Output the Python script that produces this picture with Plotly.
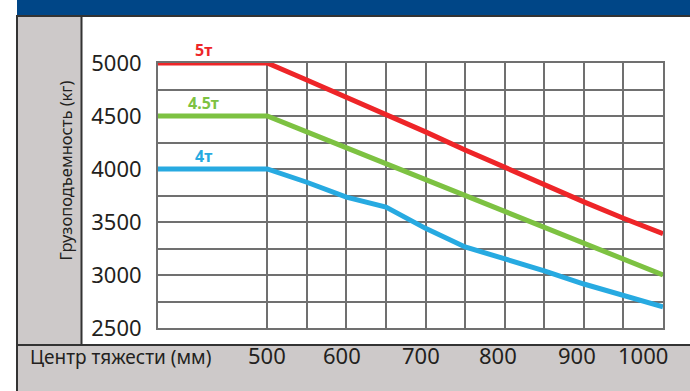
import plotly.graph_objects as go

# ---- data ----
X_START = 362
x_vals = [X_START, 500, 550, 600, 650, 700, 750, 800, 850, 900, 950, 1000]
series_names = ["5т", "4.5т", "4т"]
y_5t = [5000, 5000, 4840, 4680, 4515, 4350, 4180, 4015, 3860, 3690, 3535, 3390]
y_45t = [4500, 4500, 4350, 4200, 4050, 3900, 3750, 3600, 3450, 3300, 3150, 3000]
y_4t = [4000, 4000, 3875, 3735, 3640, 3440, 3265, 3155, 3040, 2915, 2810, 2700]
x_tick_labels = ["500", "600", "700", "800", "900", "1000"]
x_tick_vals = [500, 600, 700, 800, 900, 1000]
y_title = "Грузоподъемность (кг)"
x_title = "Центр тяжести (мм)"

colors = ["#ee2528", "#7dc242", "#27aae1"]
FONT = "Noto Sans"

W, H = 690, 391
L, R, T, B = 158, 663, 63, 328


def px(x):
    return (x - L) / (R - L)


def py(y):
    return (B - y) / (B - T)


fig = go.Figure()
for name, ys, c in zip(series_names, [y_5t, y_45t, y_4t], colors):
    fig.add_trace(go.Scatter(x=x_vals, y=ys, mode="lines", name=name,
                             line=dict(color=c, width=5), cliponaxis=False,
                             hoverinfo="skip"))
    fig.add_annotation(x=420, y=ys[0], xref="x", yref="y", text="<b>%s</b>" % name,
                       showarrow=False, yshift=13,
                       font=dict(family=FONT, size=16, color=c))

grid_c = "#707070"
fig.update_xaxes(range=[X_START, 1000], tickvals=list(range(500, 1001, 50)),
                 showticklabels=False, showgrid=True, gridcolor=grid_c, gridwidth=2,
                 showline=True, linecolor=grid_c, linewidth=2, mirror=True,
                 zeroline=False, fixedrange=True)
fig.update_yaxes(range=[2500, 5000], dtick=500, tick0=2500,
                 showgrid=True, gridcolor=grid_c, gridwidth=2,
                 minor=dict(dtick=250, showgrid=True, gridcolor=grid_c, gridwidth=2),
                 showline=True, linecolor=grid_c, linewidth=2, mirror=True,
                 zeroline=False, ticklabelstandoff=10,
                 tickfont=dict(family=FONT, size=22, color="#231f20"), fixedrange=True)

# x labels in bottom row
shifts = [0, -4, -5, -7, -7, -20]
for v, t, s in zip(x_tick_vals, x_tick_labels, shifts):
    fig.add_annotation(x=v, y=py(372), xref="x", yref="paper", text=t, showarrow=False,
                       xshift=s, font=dict(family=FONT, size=22, color="#231f20"))

fig.add_annotation(x=px(28), y=py(372), xref="paper", yref="paper", text=x_title,
                   xanchor="left", showarrow=False,
                   font=dict(family=FONT, size=19, color="#231f20"))
fig.add_annotation(x=px(51), y=py(171), xref="paper", yref="paper", text=y_title,
                   textangle=-90, showarrow=False,
                   font=dict(family=FONT, size=16.5, color="#231f20"))

grey = "#cdc9c9"
dark = "#333333"
shapes = [
    dict(type="rect", x0=px(17), x1=px(690), y0=py(345), y1=py(391), fillcolor=grey, line_width=0, layer="below"),
    dict(type="rect", x0=px(17), x1=px(81), y0=py(17), y1=py(391), fillcolor=grey, line_width=0, layer="below"),
    dict(type="rect", x0=px(17), x1=px(690), y0=py(0), y1=py(15), fillcolor="#004687", line_width=0, layer="below"),
    dict(type="line", x0=px(17), x1=px(690), y0=py(16), y1=py(16), line=dict(color=dark, width=2)),
    dict(type="line", x0=px(17), x1=px(690), y0=py(345), y1=py(345), line=dict(color=dark, width=2)),
    dict(type="line", x0=px(17), x1=px(17), y0=py(15), y1=py(391), line=dict(color=dark, width=2)),
    dict(type="line", x0=px(81.5), x1=px(81.5), y0=py(16), y1=py(345), line=dict(color=dark, width=2)),
]
for s in shapes:
    s["xref"] = "paper"
    s["yref"] = "paper"
    fig.add_shape(**s)

fig.update_layout(width=W, height=H, margin=dict(l=L, r=W - R, t=T, b=H - B),
                  paper_bgcolor="white", plot_bgcolor="white", showlegend=False)
fig.write_html("out.html", config={"displayModeBar": False},
               post_script="document.body.style.margin='0';document.body.style.overflow='hidden';")
